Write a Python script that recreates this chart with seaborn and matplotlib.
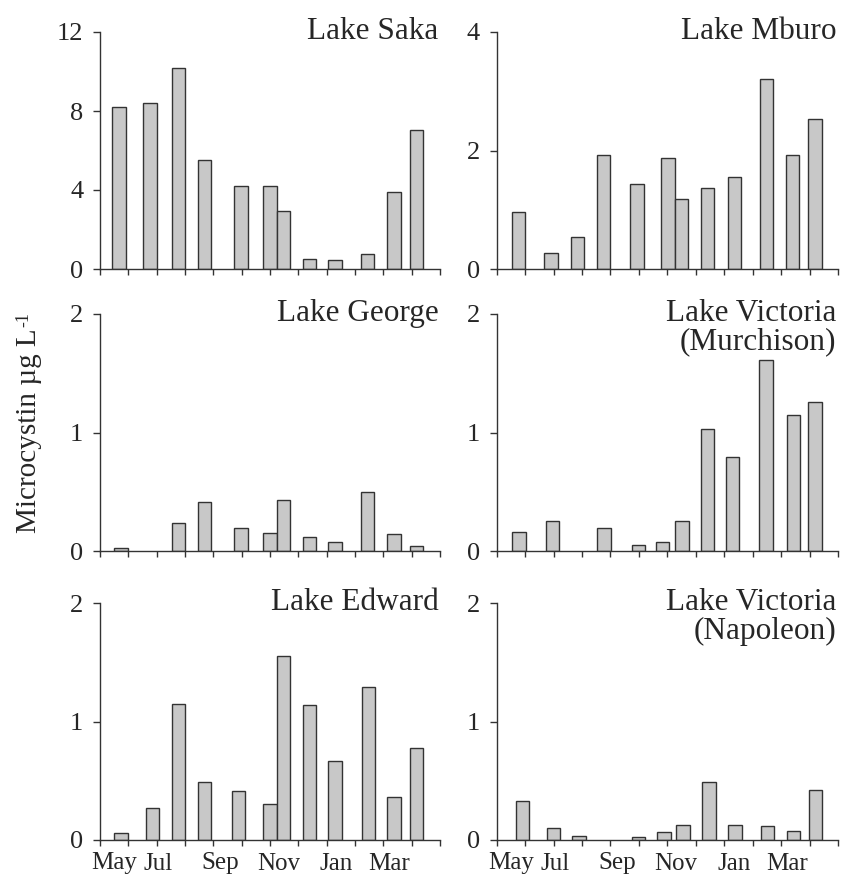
import numpy as np
import seaborn as sns
import pandas as pd
import matplotlib.pyplot as plt

# sampling positions in months from start of May (0 = 1 May)
saka_x = [0.67, 1.76, 2.78, 3.69, 4.98, 6.0, 6.47, 7.39, 8.29, 9.45, 10.38, 11.18]
saka_y = [8.2, 8.4, 10.2, 5.5, 4.18, 4.18, 2.95, 0.52, 0.46, 0.76, 3.88, 7.04]

mburo_x = [0.77, 1.91, 2.85, 3.76, 4.93, 6.02, 6.5, 7.42, 8.35, 9.48, 10.4, 11.19]
mburo_y = [0.97, 0.27, 0.54, 1.93, 1.44, 1.88, 1.18, 1.36, 1.56, 3.2, 1.92, 2.54]

george_x = [0.74, 2.78, 3.69, 4.98, 6.0, 6.47, 7.39, 8.29, 9.45, 10.38, 11.18]
george_y = [0.025, 0.24, 0.41, 0.19, 0.155, 0.43, 0.12, 0.08, 0.50, 0.145, 0.04]

murch_x = [0.78, 1.97, 3.77, 4.99, 5.83, 6.52, 7.41, 8.30, 9.47, 10.43, 11.19]
murch_y = [0.157, 0.256, 0.19, 0.05, 0.08, 0.253, 1.03, 0.79, 1.61, 1.15, 1.26]

edward_x = [0.74, 1.86, 2.78, 3.69, 4.88, 6.0, 6.47, 7.39, 8.29, 9.48, 10.38, 11.18]
edward_y = [0.056, 0.27, 1.15, 0.49, 0.41, 0.30, 1.55, 1.14, 0.67, 1.29, 0.365, 0.775]

napo_x = [0.9, 2.0, 2.9, 4.99, 5.88, 6.55, 7.46, 8.38, 9.52, 10.43, 11.22]
napo_y = [0.33, 0.10, 0.03, 0.025, 0.07, 0.127, 0.49, 0.127, 0.115, 0.075, 0.425]

month_labels = ["May", "Jul", "Sep", "Nov", "Jan", "Mar"]
month_pos = [0.5, 2.05, 4.25, 6.3, 8.35, 10.2]

panels = [
    ("Lake Saka", saka_x, saka_y, 12, [0, 4, 8, 12]),
    ("Lake Mburo", mburo_x, mburo_y, 4, [0, 2, 4]),
    ("Lake George", george_x, george_y, 2, [0, 1, 2]),
    ("Lake Victoria\n(Murchison)", murch_x, murch_y, 2, [0, 1, 2]),
    ("Lake Edward", edward_x, edward_y, 2, [0, 1, 2]),
    ("Lake Victoria\n(Napoleon)", napo_x, napo_y, 2, [0, 1, 2]),
]

sns.set_style("white")
plt.rcParams['font.family'] = ['Liberation Serif', 'DejaVu Serif']

fig = plt.figure(figsize=(8.45, 8.77), dpi=100)

lefts = [100 / 845, 496.7 / 845]
widths = [340 / 845, 341.3 / 845]
bottoms = [1 - 269 / 877, 1 - 551 / 877, 1 - 840 / 877]
h = 237 / 877

bar_w = 0.47
axc = "#333333"

for i, (title, xs, ys, ymax, yt) in enumerate(panels):
    r, c = divmod(i, 2)
    ax = fig.add_axes([lefts[c], bottoms[r], widths[c], h])
    df = pd.DataFrame({"x": xs, "y": ys})
    mind = np.min(np.diff(sorted(xs)))
    sns.barplot(data=df, x="x", y="y", native_scale=True, width=bar_w / mind,
                color="#c8c8c8", saturation=1, edgecolor="#333333",
                linewidth=1.0, ax=ax, errorbar=None)
    ax.set_xlim(0, 12)
    ax.set_ylim(0, ymax)
    ax.set_yticks(yt)
    ax.set_yticklabels([str(v) for v in yt], fontsize=19)
    ax.set_xticks(np.arange(0, 13), minor=True)
    if r == 2:
        ax.set_xticks(month_pos)
        ax.set_xticklabels(month_labels, fontsize=18)
    else:
        ax.set_xticks([])
    ax.tick_params(axis="x", which="major", length=0, pad=9)
    ax.tick_params(axis="x", which="minor", length=4, width=1, color=axc, direction="out", bottom=True)
    ax.tick_params(axis="y", length=5, width=1, color=axc, direction="out", left=True, pad=7)
    ax.set_xlabel("")
    ax.set_ylabel("")
    for s in ["top", "right"]:
        ax.spines[s].set_visible(False)
    for s in ["left", "bottom"]:
        ax.spines[s].set_color(axc)
        ax.spines[s].set_linewidth(1.0)
    ax.text(0.995, 1.065, title, transform=ax.transAxes, ha="right", va="top",
            fontsize=22.5, linespacing=1.0)

# y label with a compact "-1" superscript
lab = fig.text(29 / 845, 1 - 533 / 877, "Microcystin \u00b5g L", rotation=90,
               ha="center", va="bottom", fontsize=21)
fig.canvas.draw()
bb = lab.get_window_extent()
fig.text((bb.x0 - 1) / fig.bbox.width, (bb.y1 + 1) / fig.bbox.height, "-1",
         rotation=90, ha="left", va="bottom", fontsize=13)

fig.savefig("out.png", dpi=100)
